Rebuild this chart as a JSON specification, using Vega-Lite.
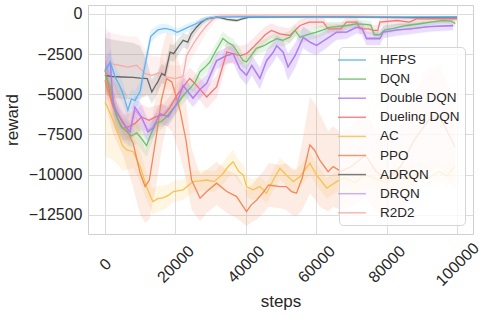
{
  "$schema": "https://vega.github.io/schema/vega-lite/v6.json",
  "autosize": {"type": "none"},
  "width": 385,
  "height": 229,
  "padding": {"left": 88, "top": 5, "right": 15, "bottom": 82},
  "background": "white",
  "config": {
    "font": "Liberation Sans",
    "view": {"stroke": "#d0d0d0", "strokeWidth": 1},
    "axis": {"labelColor": "#262626", "titleColor": "#262626", "gridColor": "#dcdcdc", "gridWidth": 1, "domain": false, "ticks": false, "tickSize": 0, "labelFontSize": 16, "titleFontSize": 17, "titleFontWeight": "normal"}
  },
  "data": {"name": "runs"},
  "datasets": {
    "runs": [
      {"s":"DRQN","x":0,"m":-3400,"lo":-5500,"hi":-1300},{"s":"DRQN","x":1500,"m":-3100,"lo":-5200,"hi":-1100},{"s":"DRQN","x":2300,"m":-5400,"lo":-7000,"hi":-3800},{"s":"DRQN","x":3500,"m":-6100,"lo":-7500,"hi":-4700},{"s":"DRQN","x":5100,"m":-6700,"lo":-8000,"hi":-5400},{"s":"DRQN","x":7100,"m":-7200,"lo":-8300,"hi":-6100},{"s":"DRQN","x":8500,"m":-6000,"lo":-7000,"hi":-5000},{"s":"DRQN","x":10400,"m":-6500,"lo":-7400,"hi":-5600},{"s":"DRQN","x":12200,"m":-7250,"lo":-8000,"hi":-6500},{"s":"DRQN","x":13600,"m":-7050,"lo":-7700,"hi":-6400},{"s":"DRQN","x":15600,"m":-6250,"lo":-6900,"hi":-5600},{"s":"DRQN","x":17900,"m":-6350,"lo":-7000,"hi":-5700},{"s":"DRQN","x":20400,"m":-5600,"lo":-6200,"hi":-5000},{"s":"DRQN","x":22200,"m":-4500,"lo":-5100,"hi":-3900},{"s":"DRQN","x":25000,"m":-5200,"lo":-5800,"hi":-4600},{"s":"DRQN","x":27000,"m":-4700,"lo":-5300,"hi":-4100},{"s":"DRQN","x":28900,"m":-4300,"lo":-4900,"hi":-3700},{"s":"DRQN","x":30500,"m":-3550,"lo":-4100,"hi":-3000},{"s":"DRQN","x":31700,"m":-2950,"lo":-3500,"hi":-2400},{"s":"DRQN","x":34600,"m":-2600,"lo":-3150,"hi":-2050},{"s":"DRQN","x":36400,"m":-2500,"lo":-3050,"hi":-1950},{"s":"DRQN","x":38300,"m":-3400,"lo":-4000,"hi":-2800},{"s":"DRQN","x":40200,"m":-3800,"lo":-4450,"hi":-3150},{"s":"DRQN","x":41700,"m":-3250,"lo":-3900,"hi":-2600},{"s":"DRQN","x":44000,"m":-4000,"lo":-4700,"hi":-3300},{"s":"DRQN","x":45900,"m":-2950,"lo":-3600,"hi":-2300},{"s":"DRQN","x":47800,"m":-2400,"lo":-3050,"hi":-1750},{"s":"DRQN","x":48800,"m":-2000,"lo":-2650,"hi":-1350},{"s":"DRQN","x":50600,"m":-2400,"lo":-3200,"hi":-1600},{"s":"DRQN","x":52000,"m":-3300,"lo":-4200,"hi":-2400},{"s":"DRQN","x":54000,"m":-2600,"lo":-3400,"hi":-1800},{"s":"DRQN","x":56300,"m":-1500,"lo":-2200,"hi":-800},{"s":"DRQN","x":58200,"m":-1750,"lo":-2450,"hi":-1050},{"s":"DRQN","x":60100,"m":-1950,"lo":-2600,"hi":-1300},{"s":"DRQN","x":63000,"m":-1550,"lo":-2150,"hi":-950},{"s":"DRQN","x":65800,"m":-1150,"lo":-1650,"hi":-650},{"s":"DRQN","x":68600,"m":-1150,"lo":-1600,"hi":-700},{"s":"DRQN","x":71500,"m":-850,"lo":-1250,"hi":-450},{"s":"DRQN","x":73000,"m":-900,"lo":-1300,"hi":-500},{"s":"DRQN","x":74300,"m":-1500,"lo":-1950,"hi":-1050},{"s":"DRQN","x":78100,"m":-1500,"lo":-1950,"hi":-1050},{"s":"DRQN","x":79000,"m":-1150,"lo":-1550,"hi":-750},{"s":"DRQN","x":83000,"m":-1000,"lo":-1400,"hi":-600},{"s":"DRQN","x":86600,"m":-950,"lo":-1300,"hi":-600},{"s":"DRQN","x":92000,"m":-800,"lo":-1150,"hi":-450},{"s":"DRQN","x":98900,"m":-750,"lo":-1050,"hi":-450},

      {"s":"AC","x":0,"m":-5480,"lo":-8900,"hi":-3500},{"s":"AC","x":1500,"m":-6200,"lo":-9000,"hi":-4300},{"s":"AC","x":3300,"m":-7230,"lo":-9300,"hi":-5500},{"s":"AC","x":5000,"m":-8200,"lo":-9800,"hi":-6800},{"s":"AC","x":6200,"m":-8470,"lo":-9700,"hi":-7300},{"s":"AC","x":8000,"m":-8580,"lo":-9600,"hi":-7600},{"s":"AC","x":10000,"m":-9510,"lo":-10500,"hi":-8500},{"s":"AC","x":11000,"m":-10200,"lo":-11100,"hi":-9300},{"s":"AC","x":11800,"m":-10750,"lo":-11600,"hi":-9900},{"s":"AC","x":13000,"m":-11400,"lo":-12200,"hi":-10600},{"s":"AC","x":13600,"m":-11680,"lo":-12500,"hi":-10900},{"s":"AC","x":15000,"m":-11500,"lo":-12300,"hi":-10700},{"s":"AC","x":16500,"m":-11450,"lo":-12200,"hi":-10700},{"s":"AC","x":18000,"m":-11300,"lo":-12000,"hi":-10600},{"s":"AC","x":19400,"m":-11060,"lo":-11700,"hi":-10400},{"s":"AC","x":22200,"m":-10950,"lo":-11600,"hi":-10300},{"s":"AC","x":25000,"m":-10440,"lo":-11100,"hi":-9800},{"s":"AC","x":27000,"m":-10400,"lo":-11050,"hi":-9750},{"s":"AC","x":28900,"m":-10340,"lo":-11000,"hi":-9700},{"s":"AC","x":31000,"m":-10440,"lo":-11100,"hi":-9800},{"s":"AC","x":33600,"m":-9920,"lo":-10600,"hi":-9250},{"s":"AC","x":35000,"m":-9500,"lo":-10200,"hi":-8800},{"s":"AC","x":36400,"m":-9200,"lo":-9950,"hi":-8450},{"s":"AC","x":38000,"m":-9820,"lo":-10500,"hi":-9150},{"s":"AC","x":39300,"m":-10030,"lo":-10700,"hi":-9350},{"s":"AC","x":40200,"m":-10750,"lo":-11400,"hi":-10100},{"s":"AC","x":42000,"m":-10950,"lo":-11600,"hi":-10300},{"s":"AC","x":44000,"m":-10750,"lo":-11400,"hi":-10100},{"s":"AC","x":45900,"m":-11160,"lo":-11800,"hi":-10500},{"s":"AC","x":47800,"m":-10340,"lo":-11000,"hi":-9700},{"s":"AC","x":49700,"m":-9620,"lo":-10300,"hi":-8950},{"s":"AC","x":51500,"m":-10030,"lo":-10700,"hi":-9350},{"s":"AC","x":53500,"m":-10440,"lo":-11100,"hi":-9800},{"s":"AC","x":55400,"m":-10130,"lo":-10800,"hi":-9450},{"s":"AC","x":58200,"m":-9300,"lo":-10000,"hi":-8600},{"s":"AC","x":60100,"m":-10030,"lo":-10700,"hi":-9350},{"s":"AC","x":63000,"m":-10850,"lo":-11500,"hi":-10200},{"s":"AC","x":65800,"m":-10440,"lo":-11100,"hi":-9800},{"s":"AC","x":68000,"m":-10200,"lo":-10900,"hi":-9500},{"s":"AC","x":71000,"m":-10500,"lo":-11200,"hi":-9800},{"s":"AC","x":74000,"m":-10000,"lo":-10700,"hi":-9300},{"s":"AC","x":77000,"m":-10300,"lo":-11000,"hi":-9600},{"s":"AC","x":80000,"m":-10500,"lo":-11200,"hi":-9800},{"s":"AC","x":83000,"m":-10100,"lo":-10800,"hi":-9400},{"s":"AC","x":86000,"m":-10300,"lo":-11000,"hi":-9600},{"s":"AC","x":89000,"m":-9900,"lo":-10600,"hi":-9200},{"s":"AC","x":92000,"m":-10200,"lo":-10900,"hi":-9500},{"s":"AC","x":95000,"m":-9800,"lo":-10500,"hi":-9100},{"s":"AC","x":97000,"m":-10100,"lo":-10800,"hi":-9400},{"s":"AC","x":99500,"m":-9500,"lo":-10200,"hi":-8800},

      {"s":"PPO","x":0,"m":-4140,"lo":-5500,"hi":-2800},{"s":"PPO","x":2300,"m":-5790,"lo":-7500,"hi":-4100},{"s":"PPO","x":5100,"m":-6720,"lo":-8800,"hi":-4700},{"s":"PPO","x":8000,"m":-8060,"lo":-10800,"hi":-5500},{"s":"PPO","x":10000,"m":-9920,"lo":-12500,"hi":-7300},{"s":"PPO","x":11400,"m":-10750,"lo":-13000,"hi":-8500},{"s":"PPO","x":12600,"m":-10340,"lo":-12800,"hi":-7900},{"s":"PPO","x":14700,"m":-7440,"lo":-10500,"hi":-4400},{"s":"PPO","x":16000,"m":-5380,"lo":-8500,"hi":-2300},{"s":"PPO","x":17500,"m":-4030,"lo":-7000,"hi":-1200},{"s":"PPO","x":19000,"m":-4240,"lo":-7300,"hi":-1300},{"s":"PPO","x":21300,"m":-5990,"lo":-8800,"hi":-3300},{"s":"PPO","x":23000,"m":-7850,"lo":-10300,"hi":-5400},{"s":"PPO","x":24600,"m":-10340,"lo":-12200,"hi":-8400},{"s":"PPO","x":27000,"m":-11470,"lo":-12900,"hi":-10000},{"s":"PPO","x":28900,"m":-11060,"lo":-12400,"hi":-9700},{"s":"PPO","x":31700,"m":-10540,"lo":-11900,"hi":-9200},{"s":"PPO","x":34600,"m":-11060,"lo":-12400,"hi":-9700},{"s":"PPO","x":37400,"m":-11370,"lo":-12700,"hi":-10000},{"s":"PPO","x":40200,"m":-12300,"lo":-13200,"hi":-11000},{"s":"PPO","x":41500,"m":-11900,"lo":-13000,"hi":-10700},{"s":"PPO","x":43100,"m":-11580,"lo":-12800,"hi":-10300},{"s":"PPO","x":45000,"m":-11100,"lo":-12400,"hi":-9800},{"s":"PPO","x":46500,"m":-10650,"lo":-12000,"hi":-9300},{"s":"PPO","x":49700,"m":-10750,"lo":-12100,"hi":-9400},{"s":"PPO","x":51500,"m":-10750,"lo":-12200,"hi":-9300},{"s":"PPO","x":53000,"m":-11060,"lo":-12500,"hi":-9600},{"s":"PPO","x":54400,"m":-11160,"lo":-12600,"hi":-9700},{"s":"PPO","x":56000,"m":-10230,"lo":-12200,"hi":-8000},{"s":"PPO","x":58200,"m":-8160,"lo":-11200,"hi":-5200},{"s":"PPO","x":59500,"m":-8470,"lo":-11500,"hi":-5500},{"s":"PPO","x":61000,"m":-9100,"lo":-12000,"hi":-6200},{"s":"PPO","x":63400,"m":-9820,"lo":-12300,"hi":-7300},{"s":"PPO","x":64800,"m":-9510,"lo":-12000,"hi":-7000},{"s":"PPO","x":67000,"m":-9800,"lo":-12200,"hi":-7400},{"s":"PPO","x":70000,"m":-9500,"lo":-12000,"hi":-7000},{"s":"PPO","x":74000,"m":-8800,"lo":-11500,"hi":-6100},{"s":"PPO","x":77000,"m":-9800,"lo":-12300,"hi":-7300},{"s":"PPO","x":80000,"m":-10300,"lo":-12700,"hi":-7900},{"s":"PPO","x":84000,"m":-9500,"lo":-12200,"hi":-6800},{"s":"PPO","x":88000,"m":-7800,"lo":-10800,"hi":-4800},{"s":"PPO","x":92000,"m":-6600,"lo":-9800,"hi":-3400},{"s":"PPO","x":95000,"m":-6400,"lo":-9500,"hi":-3300},{"s":"PPO","x":97000,"m":-7200,"lo":-10200,"hi":-4200},{"s":"PPO","x":99500,"m":-8300,"lo":-11000,"hi":-5600},

      {"s":"R2D2","x":0,"m":-2800,"lo":-4800,"hi":-900},{"s":"R2D2","x":1500,"m":-3100,"lo":-5000,"hi":-1200},{"s":"R2D2","x":4000,"m":-3200,"lo":-5000,"hi":-1300},{"s":"R2D2","x":6500,"m":-3310,"lo":-5100,"hi":-1400},{"s":"R2D2","x":9000,"m":-3200,"lo":-5000,"hi":-1400},{"s":"R2D2","x":10000,"m":-3410,"lo":-5100,"hi":-1700},{"s":"R2D2","x":11400,"m":-3720,"lo":-5200,"hi":-2200},{"s":"R2D2","x":13300,"m":-3830,"lo":-5000,"hi":-2600},{"s":"R2D2","x":16100,"m":-3620,"lo":-4500,"hi":-2700},{"s":"R2D2","x":17500,"m":-3930,"lo":-4700,"hi":-3100},{"s":"R2D2","x":19900,"m":-4030,"lo":-4800,"hi":-3250},{"s":"R2D2","x":21800,"m":-3930,"lo":-4700,"hi":-3150},{"s":"R2D2","x":22200,"m":-3830,"lo":-4600,"hi":-3050},{"s":"R2D2","x":23200,"m":-2590,"lo":-3400,"hi":-1800},{"s":"R2D2","x":25100,"m":-1860,"lo":-2600,"hi":-1100},{"s":"R2D2","x":27000,"m":-1240,"lo":-1900,"hi":-600},{"s":"R2D2","x":28900,"m":-725,"lo":-1200,"hi":-250},{"s":"R2D2","x":30800,"m":-310,"lo":-600,"hi":-50},{"s":"R2D2","x":32500,"m":-150,"lo":-300,"hi":0},{"s":"R2D2","x":40000,"m":-130,"lo":-250,"hi":-10},{"s":"R2D2","x":50000,"m":-140,"lo":-260,"hi":-20},{"s":"R2D2","x":60000,"m":-140,"lo":-260,"hi":-20},{"s":"R2D2","x":70000,"m":-150,"lo":-270,"hi":-30},{"s":"R2D2","x":80000,"m":-180,"lo":-300,"hi":-60},{"s":"R2D2","x":90000,"m":-250,"lo":-370,"hi":-130},{"s":"R2D2","x":100000,"m":-300,"lo":-420,"hi":-180},

      {"s":"ADRQN","x":0,"m":-3830,"lo":-5000,"hi":-1500},{"s":"ADRQN","x":2000,"m":-3900,"lo":-5200,"hi":-1600},{"s":"ADRQN","x":5000,"m":-3930,"lo":-5300,"hi":-1700},{"s":"ADRQN","x":8000,"m":-3950,"lo":-5300,"hi":-1800},{"s":"ADRQN","x":10000,"m":-4000,"lo":-5300,"hi":-2000},{"s":"ADRQN","x":12000,"m":-4030,"lo":-5000,"hi":-3000},{"s":"ADRQN","x":13300,"m":-4860,"lo":-5600,"hi":-4100},{"s":"ADRQN","x":14500,"m":-4400,"lo":-5100,"hi":-3700},{"s":"ADRQN","x":15000,"m":-4240,"lo":-4900,"hi":-3600},{"s":"ADRQN","x":16100,"m":-3720,"lo":-4300,"hi":-3100},{"s":"ADRQN","x":17000,"m":-3830,"lo":-4400,"hi":-3250},{"s":"ADRQN","x":18500,"m":-2380,"lo":-2900,"hi":-1850},{"s":"ADRQN","x":19500,"m":-2480,"lo":-3000,"hi":-1950},{"s":"ADRQN","x":21000,"m":-2000,"lo":-2500,"hi":-1500},{"s":"ADRQN","x":22200,"m":-1650,"lo":-2100,"hi":-1200},{"s":"ADRQN","x":23500,"m":-1760,"lo":-2200,"hi":-1300},{"s":"ADRQN","x":24500,"m":-1240,"lo":-1650,"hi":-850},{"s":"ADRQN","x":26000,"m":-830,"lo":-1150,"hi":-500},{"s":"ADRQN","x":27500,"m":-500,"lo":-750,"hi":-250},{"s":"ADRQN","x":28900,"m":-310,"lo":-480,"hi":-150},{"s":"ADRQN","x":31700,"m":-210,"lo":-320,"hi":-100},{"s":"ADRQN","x":33000,"m":-250,"lo":-350,"hi":-150},{"s":"ADRQN","x":34600,"m":-350,"lo":-450,"hi":-250},{"s":"ADRQN","x":37400,"m":-415,"lo":-520,"hi":-310},{"s":"ADRQN","x":39000,"m":-310,"lo":-400,"hi":-220},{"s":"ADRQN","x":41000,"m":-210,"lo":-290,"hi":-130},{"s":"ADRQN","x":50000,"m":-200,"lo":-270,"hi":-130},{"s":"ADRQN","x":60000,"m":-200,"lo":-270,"hi":-130},{"s":"ADRQN","x":70000,"m":-210,"lo":-280,"hi":-140},{"s":"ADRQN","x":80000,"m":-220,"lo":-290,"hi":-150},{"s":"ADRQN","x":90000,"m":-230,"lo":-300,"hi":-160},{"s":"ADRQN","x":100000,"m":-250,"lo":-320,"hi":-180},

      {"s":"Dueling DQN","x":0,"m":-3500,"lo":-4500,"hi":-2500},{"s":"Dueling DQN","x":2000,"m":-5500,"lo":-6400,"hi":-4600},{"s":"Dueling DQN","x":3500,"m":-6500,"lo":-7300,"hi":-5700},{"s":"Dueling DQN","x":5100,"m":-7120,"lo":-7900,"hi":-6300},{"s":"Dueling DQN","x":7000,"m":-7000,"lo":-7800,"hi":-6200},{"s":"Dueling DQN","x":8500,"m":-6820,"lo":-7600,"hi":-6000},{"s":"Dueling DQN","x":10400,"m":-6420,"lo":-7200,"hi":-5650},{"s":"Dueling DQN","x":12500,"m":-6620,"lo":-7400,"hi":-5850},{"s":"Dueling DQN","x":14500,"m":-6400,"lo":-7100,"hi":-5700},{"s":"Dueling DQN","x":16700,"m":-6310,"lo":-7000,"hi":-5600},{"s":"Dueling DQN","x":18500,"m":-5800,"lo":-6500,"hi":-5100},{"s":"Dueling DQN","x":20400,"m":-5070,"lo":-5800,"hi":-4350},{"s":"Dueling DQN","x":22000,"m":-4600,"lo":-5300,"hi":-3900},{"s":"Dueling DQN","x":24100,"m":-4020,"lo":-4700,"hi":-3350},{"s":"Dueling DQN","x":25500,"m":-4330,"lo":-5000,"hi":-3650},{"s":"Dueling DQN","x":27000,"m":-4700,"lo":-5400,"hi":-4000},{"s":"Dueling DQN","x":28900,"m":-5170,"lo":-5900,"hi":-4450},{"s":"Dueling DQN","x":30500,"m":-4800,"lo":-5500,"hi":-4100},{"s":"Dueling DQN","x":31700,"m":-4550,"lo":-5250,"hi":-3850},{"s":"Dueling DQN","x":33500,"m":-3200,"lo":-3900,"hi":-2500},{"s":"Dueling DQN","x":34600,"m":-2380,"lo":-3050,"hi":-1700},{"s":"Dueling DQN","x":36400,"m":-2480,"lo":-3100,"hi":-1850},{"s":"Dueling DQN","x":38500,"m":-2600,"lo":-3200,"hi":-2000},{"s":"Dueling DQN","x":40200,"m":-2480,"lo":-3050,"hi":-1900},{"s":"Dueling DQN","x":42000,"m":-2100,"lo":-2650,"hi":-1550},{"s":"Dueling DQN","x":44000,"m":-1650,"lo":-2200,"hi":-1100},{"s":"Dueling DQN","x":45500,"m":-1300,"lo":-1800,"hi":-800},{"s":"Dueling DQN","x":47300,"m":-1035,"lo":-1500,"hi":-600},{"s":"Dueling DQN","x":49700,"m":-1240,"lo":-1700,"hi":-800},{"s":"Dueling DQN","x":52500,"m":-1345,"lo":-1800,"hi":-900},{"s":"Dueling DQN","x":55400,"m":-725,"lo":-1100,"hi":-350},{"s":"Dueling DQN","x":58000,"m":-520,"lo":-850,"hi":-200},{"s":"Dueling DQN","x":62000,"m":-520,"lo":-850,"hi":-200},{"s":"Dueling DQN","x":63400,"m":-930,"lo":-1250,"hi":-600},{"s":"Dueling DQN","x":67000,"m":-930,"lo":-1250,"hi":-600},{"s":"Dueling DQN","x":68600,"m":-520,"lo":-850,"hi":-200},{"s":"Dueling DQN","x":71500,"m":-520,"lo":-850,"hi":-200},{"s":"Dueling DQN","x":72500,"m":-930,"lo":-1250,"hi":-600},{"s":"Dueling DQN","x":75000,"m":-930,"lo":-1250,"hi":-600},{"s":"Dueling DQN","x":76100,"m":-1035,"lo":-1350,"hi":-700},{"s":"Dueling DQN","x":77500,"m":-1035,"lo":-1350,"hi":-700},{"s":"Dueling DQN","x":78100,"m":-520,"lo":-800,"hi":-250},{"s":"Dueling DQN","x":83000,"m":-415,"lo":-700,"hi":-150},{"s":"Dueling DQN","x":86500,"m":-520,"lo":-800,"hi":-250},{"s":"Dueling DQN","x":88500,"m":-310,"lo":-550,"hi":-100},{"s":"Dueling DQN","x":100000,"m":-310,"lo":-550,"hi":-100},

      {"s":"DQN","x":0,"m":-3800,"lo":-4600,"hi":-3000},{"s":"DQN","x":1500,"m":-4500,"lo":-5300,"hi":-3700},{"s":"DQN","x":3000,"m":-6200,"lo":-7000,"hi":-5400},{"s":"DQN","x":4500,"m":-7000,"lo":-7700,"hi":-6300},{"s":"DQN","x":6000,"m":-7300,"lo":-8000,"hi":-6600},{"s":"DQN","x":7500,"m":-7600,"lo":-8300,"hi":-6900},{"s":"DQN","x":9000,"m":-7400,"lo":-8100,"hi":-6700},{"s":"DQN","x":10500,"m":-7800,"lo":-8500,"hi":-7100},{"s":"DQN","x":11800,"m":-8200,"lo":-8900,"hi":-7500},{"s":"DQN","x":13000,"m":-7500,"lo":-8200,"hi":-6800},{"s":"DQN","x":14500,"m":-6800,"lo":-7400,"hi":-6200},{"s":"DQN","x":16000,"m":-6700,"lo":-7200,"hi":-6200},{"s":"DQN","x":17500,"m":-6400,"lo":-6900,"hi":-5900},{"s":"DQN","x":19000,"m":-6000,"lo":-6500,"hi":-5500},{"s":"DQN","x":20500,"m":-5600,"lo":-6100,"hi":-5100},{"s":"DQN","x":22200,"m":-5100,"lo":-5600,"hi":-4600},{"s":"DQN","x":24100,"m":-4650,"lo":-5100,"hi":-4200},{"s":"DQN","x":25500,"m":-4300,"lo":-4750,"hi":-3850},{"s":"DQN","x":27000,"m":-3600,"lo":-4050,"hi":-3150},{"s":"DQN","x":28500,"m":-3300,"lo":-3750,"hi":-2850},{"s":"DQN","x":29800,"m":-3000,"lo":-3450,"hi":-2550},{"s":"DQN","x":31500,"m":-2300,"lo":-2750,"hi":-1850},{"s":"DQN","x":33500,"m":-1530,"lo":-1950,"hi":-1100},{"s":"DQN","x":35000,"m":-1800,"lo":-2200,"hi":-1400},{"s":"DQN","x":36400,"m":-1970,"lo":-2400,"hi":-1550},{"s":"DQN","x":38000,"m":-2500,"lo":-2950,"hi":-2050},{"s":"DQN","x":39200,"m":-2900,"lo":-3350,"hi":-2450},{"s":"DQN","x":40200,"m":-3000,"lo":-3450,"hi":-2550},{"s":"DQN","x":41500,"m":-2600,"lo":-3000,"hi":-2200},{"s":"DQN","x":43000,"m":-2150,"lo":-2550,"hi":-1750},{"s":"DQN","x":45000,"m":-2000,"lo":-2400,"hi":-1600},{"s":"DQN","x":46900,"m":-1760,"lo":-2150,"hi":-1350},{"s":"DQN","x":48800,"m":-1550,"lo":-1950,"hi":-1150},{"s":"DQN","x":50500,"m":-1650,"lo":-2050,"hi":-1250},{"s":"DQN","x":52500,"m":-1450,"lo":-1850,"hi":-1050},{"s":"DQN","x":54000,"m":-1035,"lo":-1400,"hi":-700},{"s":"DQN","x":55400,"m":-1450,"lo":-1850,"hi":-1050},{"s":"DQN","x":57500,"m":-1300,"lo":-1700,"hi":-900},{"s":"DQN","x":60100,"m":-1140,"lo":-1500,"hi":-800},{"s":"DQN","x":62000,"m":-1000,"lo":-1350,"hi":-650},{"s":"DQN","x":63900,"m":-830,"lo":-1150,"hi":-500},{"s":"DQN","x":66000,"m":-800,"lo":-1100,"hi":-500},{"s":"DQN","x":68600,"m":-725,"lo":-1000,"hi":-450},{"s":"DQN","x":71500,"m":-620,"lo":-900,"hi":-350},{"s":"DQN","x":74000,"m":-650,"lo":-900,"hi":-400},{"s":"DQN","x":75500,"m":-700,"lo":-950,"hi":-450},{"s":"DQN","x":76500,"m":-1300,"lo":-1600,"hi":-1000},{"s":"DQN","x":78000,"m":-1300,"lo":-1600,"hi":-1000},{"s":"DQN","x":79500,"m":-1000,"lo":-1300,"hi":-700},{"s":"DQN","x":82000,"m":-900,"lo":-1150,"hi":-650},{"s":"DQN","x":85700,"m":-725,"lo":-950,"hi":-500},{"s":"DQN","x":90000,"m":-600,"lo":-800,"hi":-400},{"s":"DQN","x":93000,"m":-500,"lo":-700,"hi":-300},{"s":"DQN","x":96000,"m":-415,"lo":-600,"hi":-250},{"s":"DQN","x":98500,"m":-450,"lo":-650,"hi":-250},{"s":"DQN","x":99500,"m":-620,"lo":-850,"hi":-400},

      {"s":"Double DQN","x":0,"m":-3500,"lo":-4300,"hi":-2700},{"s":"Double DQN","x":1500,"m":-3000,"lo":-3800,"hi":-2200},{"s":"Double DQN","x":2300,"m":-5570,"lo":-6300,"hi":-4800},{"s":"Double DQN","x":3500,"m":-6200,"lo":-6900,"hi":-5500},{"s":"Double DQN","x":5100,"m":-6800,"lo":-7500,"hi":-6100},{"s":"Double DQN","x":7100,"m":-7360,"lo":-8000,"hi":-6700},{"s":"Double DQN","x":8500,"m":-5800,"lo":-6500,"hi":-5100},{"s":"Double DQN","x":10400,"m":-6420,"lo":-7100,"hi":-5700},{"s":"Double DQN","x":12200,"m":-7350,"lo":-8000,"hi":-6700},{"s":"Double DQN","x":13600,"m":-7120,"lo":-7700,"hi":-6500},{"s":"Double DQN","x":15600,"m":-6200,"lo":-6800,"hi":-5600},{"s":"Double DQN","x":17900,"m":-6420,"lo":-7000,"hi":-5850},{"s":"Double DQN","x":20400,"m":-5570,"lo":-6100,"hi":-5050},{"s":"Double DQN","x":22200,"m":-4450,"lo":-5000,"hi":-3900},{"s":"Double DQN","x":25000,"m":-5260,"lo":-5800,"hi":-4700},{"s":"Double DQN","x":27000,"m":-4700,"lo":-5250,"hi":-4150},{"s":"Double DQN","x":28900,"m":-4330,"lo":-4850,"hi":-3800},{"s":"Double DQN","x":30500,"m":-3500,"lo":-4000,"hi":-3000},{"s":"Double DQN","x":31700,"m":-2900,"lo":-3400,"hi":-2400},{"s":"Double DQN","x":34600,"m":-2590,"lo":-3100,"hi":-2100},{"s":"Double DQN","x":36400,"m":-2480,"lo":-3000,"hi":-1950},{"s":"Double DQN","x":38300,"m":-3410,"lo":-3950,"hi":-2850},{"s":"Double DQN","x":40200,"m":-3830,"lo":-4400,"hi":-3250},{"s":"Double DQN","x":41700,"m":-3200,"lo":-3800,"hi":-2600},{"s":"Double DQN","x":44000,"m":-4020,"lo":-4700,"hi":-3350},{"s":"Double DQN","x":45900,"m":-2900,"lo":-3550,"hi":-2250},{"s":"Double DQN","x":47800,"m":-2380,"lo":-3000,"hi":-1750},{"s":"Double DQN","x":48800,"m":-1970,"lo":-2600,"hi":-1350},{"s":"Double DQN","x":50600,"m":-2380,"lo":-3100,"hi":-1650},{"s":"Double DQN","x":52000,"m":-3310,"lo":-4100,"hi":-2500},{"s":"Double DQN","x":54000,"m":-2590,"lo":-3350,"hi":-1850},{"s":"Double DQN","x":56300,"m":-1450,"lo":-2100,"hi":-800},{"s":"Double DQN","x":58200,"m":-1760,"lo":-2400,"hi":-1100},{"s":"Double DQN","x":60100,"m":-1970,"lo":-2550,"hi":-1400},{"s":"Double DQN","x":63000,"m":-1550,"lo":-2100,"hi":-1000},{"s":"Double DQN","x":65800,"m":-1140,"lo":-1600,"hi":-700},{"s":"Double DQN","x":68600,"m":-1140,"lo":-1550,"hi":-750},{"s":"Double DQN","x":71500,"m":-830,"lo":-1200,"hi":-450},{"s":"Double DQN","x":73000,"m":-900,"lo":-1300,"hi":-500},{"s":"Double DQN","x":74300,"m":-1550,"lo":-1950,"hi":-1150},{"s":"Double DQN","x":78100,"m":-1550,"lo":-1950,"hi":-1150},{"s":"Double DQN","x":79000,"m":-1140,"lo":-1500,"hi":-800},{"s":"Double DQN","x":83000,"m":-1000,"lo":-1350,"hi":-650},{"s":"Double DQN","x":86600,"m":-930,"lo":-1250,"hi":-600},{"s":"Double DQN","x":92000,"m":-800,"lo":-1100,"hi":-500},{"s":"Double DQN","x":98900,"m":-725,"lo":-1000,"hi":-450},

      {"s":"HFPS","x":0,"m":-3600,"lo":-4300,"hi":-2900},{"s":"HFPS","x":1500,"m":-3000,"lo":-3700,"hi":-2400},{"s":"HFPS","x":3000,"m":-4000,"lo":-4700,"hi":-3300},{"s":"HFPS","x":4000,"m":-4400,"lo":-5100,"hi":-3700},{"s":"HFPS","x":5000,"m":-4900,"lo":-5600,"hi":-4200},{"s":"HFPS","x":6500,"m":-6000,"lo":-6600,"hi":-5400},{"s":"HFPS","x":7500,"m":-5300,"lo":-5900,"hi":-4700},{"s":"HFPS","x":8500,"m":-5400,"lo":-6000,"hi":-4800},{"s":"HFPS","x":10000,"m":-4800,"lo":-5400,"hi":-4200},{"s":"HFPS","x":11000,"m":-3600,"lo":-4200,"hi":-3000},{"s":"HFPS","x":12000,"m":-2500,"lo":-3000,"hi":-2000},{"s":"HFPS","x":13000,"m":-1400,"lo":-1800,"hi":-1000},{"s":"HFPS","x":15000,"m":-1000,"lo":-1350,"hi":-700},{"s":"HFPS","x":17000,"m":-900,"lo":-1200,"hi":-600},{"s":"HFPS","x":19000,"m":-1000,"lo":-1300,"hi":-750},{"s":"HFPS","x":20500,"m":-1150,"lo":-1400,"hi":-900},{"s":"HFPS","x":22000,"m":-1000,"lo":-1250,"hi":-750},{"s":"HFPS","x":24000,"m":-800,"lo":-1050,"hi":-550},{"s":"HFPS","x":26000,"m":-600,"lo":-800,"hi":-400},{"s":"HFPS","x":28000,"m":-400,"lo":-550,"hi":-250},{"s":"HFPS","x":30000,"m":-250,"lo":-350,"hi":-150},{"s":"HFPS","x":32000,"m":-200,"lo":-280,"hi":-120},{"s":"HFPS","x":40000,"m":-180,"lo":-240,"hi":-120},{"s":"HFPS","x":50000,"m":-200,"lo":-260,"hi":-140},{"s":"HFPS","x":60000,"m":-220,"lo":-280,"hi":-160},{"s":"HFPS","x":70000,"m":-210,"lo":-270,"hi":-150},{"s":"HFPS","x":80000,"m":-200,"lo":-250,"hi":-150},{"s":"HFPS","x":90000,"m":-190,"lo":-240,"hi":-140},{"s":"HFPS","x":100000,"m":-180,"lo":-230,"hi":-130}
    ]
  },
  "encoding": {
    "x": {"field": "x", "type": "quantitative", "scale": {"domain": [-4830, 104545], "nice": false, "zero": false},
      "axis": {"title": "steps", "values": [0, 20000, 40000, 60000, 80000, 100000], "format": "d", "labelAngle": -45, "labelAlign": "center", "labelBaseline": "middle", "labelPadding": 30, "labelFlush": false, "labelOverlap": false, "titleY": 67, "titleBaseline": "middle"}}
  },
  "layer": [
    {
      "mark": {"type": "area", "opacity": 0.16, "clip": true},
      "encoding": {
        "y": {"field": "lo", "type": "quantitative", "scale": {"domain": [-13700, 550], "nice": false, "zero": false},
          "axis": {"title": "reward", "values": [0, -2500, -5000, -7500, -10000, -12500], "format": "d", "labelPadding": 6, "titleX": -76, "titleY": 114.5, "titleBaseline": "middle", "titleAlign": "center"}},
        "y2": {"field": "hi"},
        "fill": {"field": "s", "type": "nominal", "legend": null,
          "scale": {"domain": ["R2D2", "DRQN", "ADRQN", "PPO", "AC", "Dueling DQN", "Double DQN", "DQN", "HFPS"],
                    "range": ["#f8abab", "#c4a4f0", "#666666", "#f2885a", "#f6c351", "#f47575", "#b07cf2", "#6cbf6b", "#5cb3f6"]}}
      }
    },
    {
      "mark": {"type": "line", "strokeWidth": 1.3, "clip": true},
      "encoding": {
        "y": {"field": "m", "type": "quantitative"},
        "stroke": {"field": "s", "type": "nominal",
          "scale": {"domain": ["HFPS", "DQN", "Double DQN", "Dueling DQN", "AC", "PPO", "ADRQN", "DRQN", "R2D2"],
                    "range": ["#5cb3f6", "#6cbf6b", "#b07cf2", "#f47575", "#f6c351", "#f2885a", "#666666", "#c4a4f0", "#f8abab"]},
          "legend": {"title": null, "orient": "none", "legendX": 251, "legendY": 42, "symbolType": "M-2,0H2", "symbolSize": 196, "symbolStrokeWidth": 1.5, "symbolOpacity": 0.85, "labelFontSize": 13.5, "labelColor": "#262626", "labelOffset": 20, "rowPadding": 4.1, "padding": 5, "fillColor": "rgba(255,255,255,0.8)", "strokeColor": "#d5d5d5", "cornerRadius": 4}}
      }
    }
  ]
}
